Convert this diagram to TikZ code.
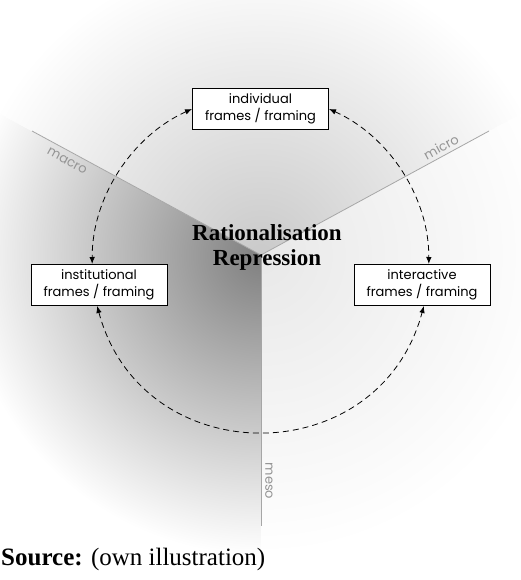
\documentclass[tikz,border=0pt]{standalone}
\usepackage{fontspec}
\setmainfont{Liberation Serif}
\newfontfamily\framefont{Poppins}
\usetikzlibrary{arrows.meta}
\tikzset{
  framebox/.style = {draw, line width=1pt, fill=white, inner sep=0, minimum width=136pt, minimum height=41pt, align=center, font=\framefont\fontsize{13}{17}\selectfont},
  levelline/.style = {draw=black!35, line width=0.8pt},
  levellabel/.style = {text=black!42, inner sep=1pt, font=\framefont\fontsize{13}{15}\selectfont},
  framelink/.style = {{Latex[length=7pt, width=5.5pt]}-{Latex[length=7pt, width=5.5pt]}, line width=0.8pt, dash pattern=on 6pt off 4pt},
}

\begin{document}
\begin{tikzpicture}[x=1pt, y=-1pt]
  \useasboundingbox (0,0) rectangle (520,580);
  \coordinate (centre) at (261,255);
  \coordinate (macro) at (32,131);
  \coordinate (micro) at (489,131);
  \coordinate (meso) at (261,526);

  % three faces, each fading out to white
  \foreach \a/\m/\b/\c in {
    90/149/208.4/black!50,
    208.4/270/331.5/black!21,
    331.5/391/450/black!9%
  }{
    \begin{scope}
      \clip (centre) -- ([shift={(\a:900)}]centre) -- ([shift={(\m:900)}]centre) -- ([shift={(\b:900)}]centre) -- cycle;
      \shade [inner color=\c, outer color=white] (centre) circle (300);
    \end{scope}
  }

  \draw [levelline] (centre) -- (macro);
  \draw [levelline] (centre) -- (micro);
  \draw [levelline] (centre) -- (meso);

  \node [levellabel, rotate=-28.4] (macrolabel) at (67,161) {macro};
  \node [levellabel, rotate=28.5] (microlabel) at (441,147) {micro};
  \node [levellabel, rotate=-90] (mesolabel) at (269,481) {meso};

  \node [framebox] (individual) at (260.5,109) {individual\\frames / framing};
  \node [framebox] (institutional) at (99,285) {institutional\\frames / framing};
  \node [framebox] (interactive) at (422,285) {interactive\\frames / framing};

  \draw [framelink] (individual.west) to [bend right=33, looseness=0.92] (institutional.108);
  \draw [framelink] (individual.east) to [bend left=33, looseness=0.92] (interactive.72);
  \draw [framelink] (institutional.265) to [bend right=75, looseness=1.36] (interactive.275);

  \node [align=center, font=\bfseries\fontsize{23}{25}\selectfont] (core) at (267,247) {Rationalisation\\Repression};

  \node [anchor=base west, inner sep=0, font=\fontsize{25}{30}\selectfont] (source) at (1,565) {\textbf{Source:} (own illustration)};
\end{tikzpicture}
\end{document}
